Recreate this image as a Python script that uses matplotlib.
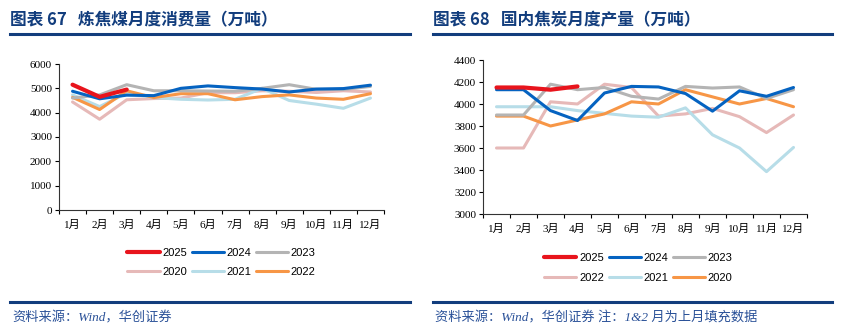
import matplotlib

matplotlib.use("Agg")
import matplotlib.pyplot as plt
from matplotlib.lines import Line2D

plt.rcParams["font.family"] = ["Liberation Serif", "Noto Sans CJK SC", "DejaVu Sans"]

MONTHS = [f"{m}月" for m in range(1, 13)]

# 炼焦煤月度消费量（万吨）
coal_2025 = [5150, 4650, 4950]
coal_2024 = [4880, 4570, 4720, 4700, 5000, 5100, 5030, 4970, 4850, 4970, 4990, 5130]
coal_2023 = [4600, 4730, 5150, 4900, 4900, 4890, 4880, 5000, 5150, 4960, 4950, 5080]
coal_2020 = [4440, 3730, 4530, 4580, 4600, 4820, 4820, 4900, 4880, 4830, 4900, 4850]
coal_2021 = [4730, 4250, 4800, 4620, 4550, 4520, 4550, 5000, 4500, 4350, 4180, 4600]
coal_2022 = [4630, 4130, 4900, 4620, 4780, 4780, 4530, 4660, 4730, 4600, 4550, 4780]

# 国内焦炭月度产量（万吨）
coke_2025 = [4150, 4150, 4130, 4160]
coke_2024 = [4130, 4130, 3940, 3850, 4100, 4160, 4155, 4095, 3935, 4120, 4070, 4150]
coke_2023 = [3900, 3900, 4180, 4130, 4150, 4070, 4045, 4160, 4145, 4155, 4050, 4130]
coke_2022 = [3600, 3600, 4020, 4000, 4180, 4150, 3890, 3910, 3960, 3885, 3740, 3900]
coke_2021 = [3975, 3975, 3975, 3940, 3915, 3890, 3880, 3965, 3720, 3600, 3385, 3605]
coke_2020 = [3890, 3890, 3800, 3855, 3910, 4020, 4000, 4130, 4065, 4000, 4050, 3975]

RED = "#e8141c"
BLUE = "#0563c1"
GRAY = "#b4b4b4"
PINK = "#e6b9b8"
LIGHTBLUE = "#b7dde8"
ORANGE = "#f79646"
NAVY = "#123d7d"

W, H = 841, 335
fig = plt.figure(figsize=(W / 100, H / 100), dpi=100)


def px_axes(x0, y0, x1, y1):
    return fig.add_axes([x0 / W, 1 - y1 / H, (x1 - x0) / W, (y1 - y0) / H])


def header(x0, x1, title):
    fig.text(x0 / W, 1 - 20 / H, title, fontsize=12, fontweight="bold",
             color=NAVY, va="center", family=["Noto Sans CJK SC"])
    fig.add_artist(Line2D([x0 / W, x1 / W], [1 - 34 / H] * 2, color=NAVY, lw=2.2))


def footer(x0, x1, text):
    fig.add_artist(Line2D([x0 / W, x1 / W], [1 - 302 / H] * 2, color=NAVY, lw=2.2))
    fig.text((x0 + 2) / W, 1 - 318 / H, text, fontsize=9.5, style="italic",
             color="#2a5198", va="center")


def style_axes(ax, ylim, yticks):
    n = len(MONTHS)
    ax.set_xlim(-0.5, n - 0.5)
    ax.set_ylim(*ylim)
    ax.set_yticks(yticks)
    ax.set_xticks([i - 0.5 for i in range(n + 1)])
    ax.set_xticklabels([])
    ax.set_xticks(range(n), minor=True)
    ax.set_xticklabels(MONTHS, minor=True)
    ax.tick_params(axis="x", which="major", direction="out", length=3, width=0.8)
    ax.tick_params(axis="x", which="minor", length=0, pad=7, labelsize=8)
    ax.tick_params(axis="y", direction="out", length=3, width=0.8, labelsize=8, pad=2)
    for side in ("top", "right"):
        ax.spines[side].set_visible(False)
    for side in ("left", "bottom"):
        ax.spines[side].set_linewidth(0.8)
        ax.spines[side].set_color("#333333")


def draw(ax, series):
    handles = {}
    for label, values, color, lw in series:
        (ln,) = ax.plot(range(len(values)), values, color=color, lw=lw,
                        label=label, solid_capstyle="round")
        handles[label] = ln
    return handles


def legend(ax, handles, order, anchor):
    ax.legend([handles[k] for k in order], order, ncol=3, loc="center",
              bbox_to_anchor=anchor, frameon=False, handlelength=2.9,
              handletextpad=0.25, columnspacing=0.4, labelspacing=0.85,
              prop={"family": "Liberation Sans", "size": 8})


# left panel
header(10, 410, "图表 67   炼焦煤月度消费量（万吨）")
ax1 = px_axes(59, 64, 384, 210)
h1 = draw(ax1, [
    ("2020", coal_2020, PINK, 2.2),
    ("2021", coal_2021, LIGHTBLUE, 2.2),
    ("2022", coal_2022, ORANGE, 2.2),
    ("2023", coal_2023, GRAY, 2.2),
    ("2024", coal_2024, BLUE, 2.2),
    ("2025", coal_2025, RED, 3.0),
])
style_axes(ax1, (0, 6000), range(0, 6001, 1000))
legend(ax1, h1, ["2025", "2020", "2024", "2021", "2023", "2022"], (0.5, -0.36))
footer(10, 410, "资料来源：Wind，华创证券")

# right panel
header(433, 832, "图表 68   国内焦炭月度产量（万吨）")
ax2 = px_axes(483, 60, 807, 214)
h2 = draw(ax2, [
    ("2022", coke_2022, PINK, 2.2),
    ("2021", coke_2021, LIGHTBLUE, 2.2),
    ("2020", coke_2020, ORANGE, 2.2),
    ("2023", coke_2023, GRAY, 2.2),
    ("2024", coke_2024, BLUE, 2.2),
    ("2025", coke_2025, RED, 3.0),
])
style_axes(ax2, (3000, 4400), range(3000, 4401, 200))
legend(ax2, h2, ["2025", "2022", "2024", "2021", "2023", "2020"], (0.48, -0.35))
footer(433, 832, "资料来源：Wind，华创证券 注：1&2 月为上月填充数据")

fig.savefig("out.png", dpi=100)
